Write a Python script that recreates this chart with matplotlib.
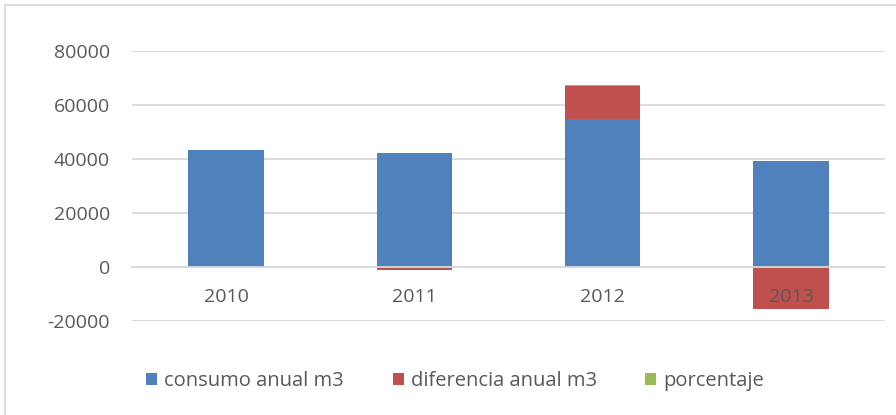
import matplotlib
matplotlib.use("Agg")
import matplotlib.pyplot as plt
import numpy as np
from matplotlib.patches import Rectangle

years = ["2010", "2011", "2012", "2013"]
consumo = [43200, 42200, 54700, 39300]
diferencia = [0, -1000, 12500, -15400]
porcentaje = [0, -2.3, 29.6, -28.2]
series_names = ["consumo anual m3", "diferencia anual m3", "porcentaje"]
colors = ["#4F81BD", "#C0504D", "#9BBB59"]
yticks = [-20000, 0, 20000, 40000, 60000, 80000]

plt.rcParams['font.family'] = ['Open Sans', 'DejaVu Sans']
fig = plt.figure(figsize=(8.96, 4.15), dpi=100)
ax = fig.add_axes([132/896, 1-321/415, (885-132)/896, (321-51)/415])

x = np.arange(len(years))
pos_base = np.zeros(len(years))
neg_base = np.zeros(len(years))
for vals, name, c in zip([consumo, diferencia, porcentaje], series_names, colors):
    v = np.array(vals, dtype=float)
    bottom = np.where(v >= 0, pos_base, neg_base)
    ax.bar(x, v, 0.4, bottom=bottom, color=c, label=name, zorder=1)
    pos_base = pos_base + np.where(v >= 0, v, 0)
    neg_base = neg_base + np.where(v < 0, v, 0)

ax.set_xlim(-0.5, len(years) - 0.5)
ax.set_ylim(-20000, 80000)
ax.set_yticks(yticks)
ax.set_yticklabels([str(t) for t in yticks])
ax.set_xticks(x)
ax.set_xticklabels(years)
ax.set_axisbelow(True)
ax.xaxis.set_zorder(5)
ax.yaxis.grid(True, color="#D9D9D9", linewidth=1.3)
for s in ["top", "right", "left"]:
    ax.spines[s].set_visible(False)
ax.spines["bottom"].set_position(("data", 0))
ax.spines["bottom"].set_color("#D9D9D9")
ax.spines["bottom"].set_linewidth(1.3)
ax.tick_params(axis="both", length=0, labelsize=14, labelcolor="#595959")
ax.tick_params(axis="x", pad=15)
ax.tick_params(axis="y", pad=16)

leg = fig.legend(loc="center", bbox_to_anchor=(0.508, 1-381/415), ncol=3, frameon=False,
                 fontsize=14.5, handlelength=0.55, handleheight=0.55, handletextpad=0.35,
                 columnspacing=2.4, labelcolor="#595959")

fig.patches.append(Rectangle((5/896, -0.1), 1.2, 1-5/415+0.1, transform=fig.transFigure,
                             fill=False, edgecolor="#D9D9D9", linewidth=1.3))

fig.savefig("out.png", dpi=100)
